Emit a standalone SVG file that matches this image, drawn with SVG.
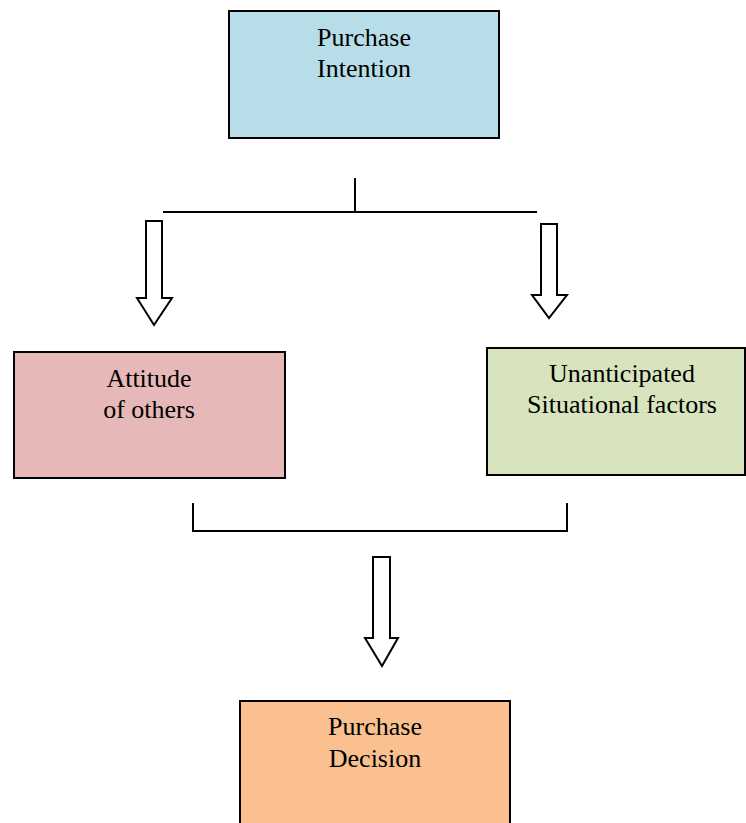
<svg xmlns="http://www.w3.org/2000/svg" width="746" height="823" viewBox="0 0 746 823">
<style>
.box{stroke:#000;stroke-width:2}
.lbl{font-family:"Liberation Serif","Times New Roman",serif;font-size:26px;fill:#000;text-anchor:middle}
.ln{stroke:#000;stroke-width:2;fill:none}
.arr{fill:#fff;stroke:#000;stroke-width:2;stroke-linejoin:miter}
</style>
<rect width="746" height="823" fill="#fff"/>
<g id="purchase-intention">
<rect class="box" x="229" y="11" width="270" height="127" fill="#b7dde8"/>
<text class="lbl" x="364" y="46">Purchase</text>
<text class="lbl" x="364" y="77">Intention</text>
</g>
<g id="attitude-of-others">
<rect class="box" x="14" y="352" width="271" height="126" fill="#e6b8b7"/>
<text class="lbl" x="149" y="387">Attitude</text>
<text class="lbl" x="149" y="418">of others</text>
</g>
<g id="unanticipated-situational-factors">
<rect class="box" x="487" y="348" width="258" height="127" fill="#d7e4bd"/>
<text class="lbl" x="622" y="382">Unanticipated</text>
<text class="lbl" x="622" y="413">Situational factors</text>
</g>
<g id="purchase-decision">
<path class="box" d="M240,830 V701 H510 V830" fill="#fac090"/>
<text class="lbl" x="375" y="735">Purchase</text>
<text class="lbl" x="375" y="767">Decision</text>
</g>
<g id="connectors">
<path class="ln" d="M355,178 V212 M163,212 H537"/>
<path class="ln" d="M193,503 V531 H567 V503"/>
<path class="arr" d="M146,221 H162 V298 H172 L154,325 L137,298 H146 Z"/>
<path class="arr" d="M541,224 H557 V295 H567 L549,318 L532,295 H541 Z"/>
<path class="arr" d="M373,557 H390 V638 H398 L382,666 L365,638 H373 Z"/>
</g>
</svg>
